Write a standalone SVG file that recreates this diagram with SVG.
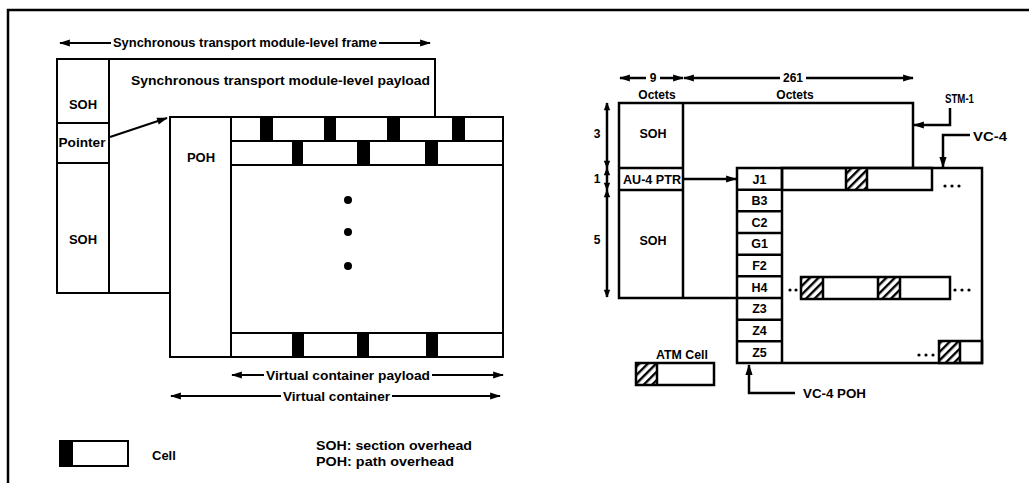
<svg xmlns="http://www.w3.org/2000/svg" width="1029" height="483" viewBox="0 0 1029 483">
<style>
.ln{fill:none;stroke:#000;stroke-width:2}
.lr{fill:none;stroke:#000;stroke-width:2.5}
.bk{fill:#000}
.t{font-family:"Liberation Sans",Arial,sans-serif;font-weight:bold;fill:#000}
.tl{font-size:13px}
.tr{font-size:12px}
.dot{fill:#000}
</style>
<defs>
<pattern id="hatch" patternUnits="userSpaceOnUse" width="6" height="6" patternTransform="rotate(45)">
<rect width="6" height="6" fill="#fff"/>
<rect x="0" y="0" width="2.4" height="6" fill="#000"/>
</pattern>
<marker id="ah" viewBox="0 0 12 10" refX="11" refY="5" markerWidth="13" markerHeight="9" markerUnits="userSpaceOnUse" orient="auto-start-reverse">
<path d="M0,1 L12,5 L0,9 Z" fill="#000"/>
</marker>
<marker id="ahs" viewBox="0 0 10 10" refX="9" refY="5" markerWidth="9" markerHeight="8" markerUnits="userSpaceOnUse" orient="auto-start-reverse">
<path d="M0,1 L10,5 L0,9 Z" fill="#000"/>
</marker>
</defs>
<rect width="1029" height="483" fill="#fff"/>
<g id="border">
<path d="M8,483 V10 H1029" fill="none" stroke="#000" stroke-width="2.5"/>
</g>

<!-- LEFT DIAGRAM -->
<g id="stm-frame">
<path class="ln" d="M170,293 H57 V59 H435 V117"/>
<path class="ln" d="M109,59 V293 M57,123 H109 M57,163 H109"/>
<text class="t" x="83" y="109" font-size="13" text-anchor="middle">SOH</text>
<text class="t" x="82" y="147" font-size="12" text-anchor="middle" textLength="47" lengthAdjust="spacingAndGlyphs">Pointer</text>
<text class="t" x="83" y="244" font-size="13" text-anchor="middle">SOH</text>
<text class="t tl" x="131" y="85" textLength="299" lengthAdjust="spacingAndGlyphs">Synchronous transport module-level payload</text>
</g>
<g id="virtual-container">
<rect class="ln" x="170" y="117" width="333" height="240"/>
<path class="ln" d="M231,117 V357 M231,141 H503 M231,165 H503 M231,333 H503"/>
<text class="t" x="201" y="162" font-size="13" text-anchor="middle">POH</text>
<rect class="bk" x="260" y="117" width="13" height="24"/>
<rect class="bk" x="324" y="117" width="12" height="24"/>
<rect class="bk" x="387" y="117" width="13" height="24"/>
<rect class="bk" x="452" y="117" width="13" height="24"/>
<rect class="bk" x="292" y="141" width="11" height="24"/>
<rect class="bk" x="357" y="141" width="13" height="24"/>
<rect class="bk" x="425" y="141" width="13" height="24"/>
<rect class="bk" x="292" y="333" width="12" height="24"/>
<rect class="bk" x="357" y="333" width="12" height="24"/>
<rect class="bk" x="426" y="333" width="12" height="24"/>
<circle class="dot" cx="348" cy="200" r="4"/>
<circle class="dot" cx="348" cy="232" r="4"/>
<circle class="dot" cx="348" cy="266" r="4"/>
</g>
<g id="legend-left">
<rect class="ln" x="60" y="441" width="68" height="25"/>
<rect class="bk" x="60" y="441" width="13" height="25"/>
<text class="t tl" x="152" y="460">Cell</text>
<text class="t" x="316" y="450" font-size="12.5" textLength="156" lengthAdjust="spacingAndGlyphs">SOH: section overhead</text>
<text class="t" x="316" y="466" font-size="12.5" textLength="138" lengthAdjust="spacingAndGlyphs">POH: path overhead</text>
</g>
<g id="left-labels">
<text class="t tl" x="113" y="47" textLength="264" lengthAdjust="spacingAndGlyphs">Synchronous transport module-level frame</text>
<text class="t tl" x="266" y="380" textLength="164" lengthAdjust="spacingAndGlyphs">Virtual container payload</text>
<text class="t tl" x="283" y="401" textLength="107" lengthAdjust="spacingAndGlyphs">Virtual container</text>
</g>

<!-- RIGHT DIAGRAM -->
<g id="stm-1">
<path class="lr" d="M737,298 H619 V103 H913 V168"/>
<path class="lr" d="M683,103 V298 M619,168 H683 M619,190 H683"/>
<text class="t" x="653" y="138" font-size="12.5" text-anchor="middle">SOH</text>
<text class="t tr" x="623" y="184" textLength="58" lengthAdjust="spacingAndGlyphs">AU-4 PTR</text>
<text class="t" x="653" y="245" font-size="12.5" text-anchor="middle">SOH</text>
</g>
<g id="vc-4">
<rect class="lr" x="737" y="168" width="245" height="195" fill="none"/>
<path class="lr" d="M782,168 V363 M737,189.7 H782 M737,211.3 H782 M737,233 H782 M737,254.7 H782 M737,276.3 H782 M737,298 H782 M737,319.7 H782 M737,341.3 H782"/>
<g class="t" font-size="12.5" text-anchor="middle">
<text x="759.5" y="183.5">J1</text>
<text x="759.5" y="205">B3</text>
<text x="759.5" y="226.7">C2</text>
<text x="759.5" y="248.3">G1</text>
<text x="759.5" y="270">F2</text>
<text x="759.5" y="291.7">H4</text>
<text x="759.5" y="313.3">Z3</text>
<text x="759.5" y="335">Z4</text>
<text x="759.5" y="356.7">Z5</text>
</g>
<rect x="846" y="168" width="21" height="22" fill="url(#hatch)"/>
<rect class="lr" x="782" y="168" width="150" height="22" fill="none"/>
<path class="lr" d="M846,168 V190 M867,168 V190"/>
<circle class="dot" cx="945" cy="186" r="1.6"/><circle class="dot" cx="952" cy="186" r="1.6"/><circle class="dot" cx="959" cy="186" r="1.6"/>
<rect x="801" y="277" width="22" height="22" fill="url(#hatch)"/>
<rect x="878" y="277" width="22" height="22" fill="url(#hatch)"/>
<rect class="lr" x="801" y="277" width="149" height="22" fill="none"/>
<path class="lr" d="M823,277 V299 M878,277 V299 M900,277 V299"/>
<circle class="dot" cx="790" cy="290" r="1.6"/><circle class="dot" cx="796" cy="290" r="1.6"/>
<circle class="dot" cx="955" cy="290" r="1.6"/><circle class="dot" cx="962" cy="290" r="1.6"/><circle class="dot" cx="969" cy="290" r="1.6"/>
<rect x="939" y="341" width="21" height="22" fill="url(#hatch)"/>
<rect class="lr" x="939" y="341" width="43" height="22" fill="none"/>
<path class="lr" d="M960,341 V363"/>
<circle class="dot" cx="919" cy="355" r="1.6"/><circle class="dot" cx="926" cy="355" r="1.6"/><circle class="dot" cx="933" cy="355" r="1.6"/>
</g>
<g id="atm-cell">
<rect x="636" y="363" width="21" height="22" fill="url(#hatch)"/>
<rect class="lr" x="636" y="363" width="78" height="22" fill="none"/>
<path class="lr" d="M657,363 V385"/>
<text class="t tr" x="656" y="359" textLength="52" lengthAdjust="spacingAndGlyphs">ATM Cell</text>
</g>
<g id="right-labels">
<text class="t tr" x="653" y="82" text-anchor="middle">9</text>
<text class="t tr" x="793" y="82" text-anchor="middle">261</text>
<text class="t tr" x="657" y="99" text-anchor="middle">Octets</text>
<text class="t tr" x="795" y="99" text-anchor="middle">Octets</text>
<text class="t" font-size="13" x="945" y="103" textLength="29" lengthAdjust="spacingAndGlyphs">STM-1</text>
<text class="t" font-size="13" x="973" y="141" textLength="34" lengthAdjust="spacingAndGlyphs">VC-4</text>
<text class="t" font-size="13" x="803" y="398" textLength="63" lengthAdjust="spacingAndGlyphs">VC-4 POH</text>
<text class="t tr" x="597" y="138" text-anchor="middle">3</text>
<text class="t tr" x="597" y="183" text-anchor="middle">1</text>
<text class="t tr" x="597" y="244" text-anchor="middle">5</text>
</g>

<g id="connectors">
<!-- left -->
<path class="ln" d="M111,43 H60" marker-end="url(#ah)"/>
<path class="ln" d="M379,43 H430" marker-end="url(#ah)"/>
<path class="ln" d="M264,375 H232" marker-end="url(#ah)"/>
<path class="ln" d="M432,375 H503" marker-end="url(#ah)"/>
<path class="ln" d="M281,396 H171" marker-end="url(#ah)"/>
<path class="ln" d="M392,396 H500" marker-end="url(#ah)"/>
<path class="ln" d="M110,137 L167,118" marker-end="url(#ah)"/>
<!-- right -->
<path class="lr" d="M646,78 H620" marker-end="url(#ah)"/>
<path class="lr" d="M660,78 H683" marker-end="url(#ah)"/>
<path class="lr" d="M780,78 H684" marker-end="url(#ah)"/>
<path class="lr" d="M806,78 H913" marker-end="url(#ah)"/>
<path class="lr" d="M683,179 H736" marker-end="url(#ah)"/>
<path class="lr" d="M950,108 V125 H914" marker-end="url(#ah)"/>
<path class="lr" d="M970,135 H943 V167" marker-end="url(#ah)"/>
<path class="lr" d="M795,393 H749 V365" marker-end="url(#ah)"/>
<path class="lr" d="M607,103 V168" marker-start="url(#ahs)" marker-end="url(#ahs)"/>
<path class="lr" d="M607,168 V190" marker-start="url(#ahs)" marker-end="url(#ahs)"/>
<path class="lr" d="M607,190 V297" marker-start="url(#ahs)" marker-end="url(#ahs)"/>
</g>
</svg>
